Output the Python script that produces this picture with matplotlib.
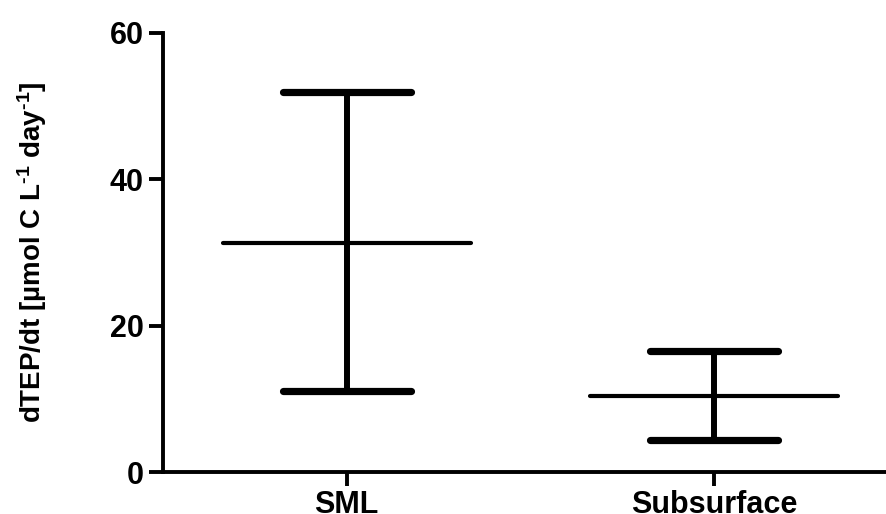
import matplotlib
matplotlib.use("Agg")
import matplotlib.pyplot as plt
import numpy as np

plt.rcParams['font.family'] = ['Liberation Sans', 'DejaVu Sans']
plt.rcParams['font.weight'] = 'bold'
plt.rcParams['mathtext.fontset'] = 'custom'
plt.rcParams['mathtext.rm'] = 'Liberation Sans:bold'
plt.rcParams['mathtext.default'] = 'rm'

# values
categories = ["SML", "Subsurface"]
means = [31.3, 10.4]
upper = [51.9, 16.5]
lower = [11.1, 4.4]
yticks = [0, 20, 40, 60]

x = np.arange(len(categories))
cap_hw = 0.174
mean_hw = 0.338

fig = plt.figure(figsize=(8.87, 5.14), dpi=100)
ax = fig.add_axes([163/887, 42/514, 1 - 163/887, (472 - 33)/514])

ax.vlines(x, lower, upper, color="black", linewidth=4.3, zorder=3)
ax.hlines(upper, x - cap_hw, x + cap_hw, color="black", linewidth=5.2, capstyle="round", zorder=3)
ax.hlines(lower, x - cap_hw, x + cap_hw, color="black", linewidth=5.2, capstyle="round", zorder=3)
ax.hlines(means, x - mean_hw, x + mean_hw, color="black", linewidth=3.0, capstyle="round", zorder=3)

ax.set_xlim(-0.5, 1.47)
ax.set_ylim(0, 60)
ax.set_yticks(yticks)
ax.set_xticks(x)
ax.set_xticklabels(categories)

for s in ["top", "right"]:
    ax.spines[s].set_visible(False)
for s in ["left", "bottom"]:
    ax.spines[s].set_linewidth(2.8)

ax.tick_params(axis="both", width=2.8, length=10, labelsize=22, pad=4)
ax.tick_params(axis="x", pad=3)
for lab in ax.get_xticklabels() + ax.get_yticklabels():
    lab.set_fontweight("bold")

ax.set_ylabel(r"dTEP/dt [µmol C L$^{\text{-1}}$ day$^{\text{-1}}$]", fontsize=20, fontweight="bold")
ax.yaxis.set_label_coords(-0.157, 0.5)

fig.savefig("out.png", dpi=100)
